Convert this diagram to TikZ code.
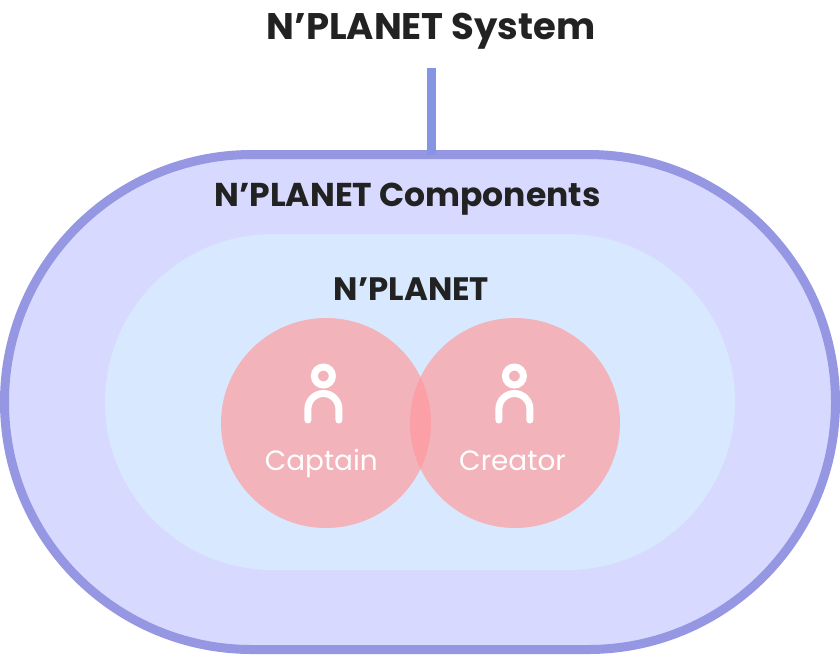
\documentclass[tikz,border=0pt]{standalone}
\usepackage{fontspec}
\setmainfont{Poppins}
\definecolor{txt}{HTML}{222222}
\definecolor{ringc}{HTML}{9597E2}
\definecolor{linec}{HTML}{8595E3}
\definecolor{outerc}{HTML}{D8D9FE}
\definecolor{innerc}{HTML}{D8E9FF}
\definecolor{circc}{HTML}{F2B3BB}
\definecolor{overc}{HTML}{FBA0A6}
\tikzset{
  x=1pt,y=-1pt,
  boxbase/.style={rectangle,inner sep=0pt,outer sep=0pt},
  member/.style={circle,inner sep=0pt,outer sep=0pt,minimum size=210pt,fill=circc},
  heading/.style={anchor=base,inner sep=0pt,text=txt,font=\bfseries\fontsize{#1}{#1}\selectfont},
  memberlabel/.style={anchor=base,inner sep=0pt,text=white,font=\fontsize{27.9}{28}\selectfont},
  icon/.style={draw=white,line width=7pt,line cap=round}
}
\begin{document}
\begin{tikzpicture}
\useasboundingbox (0,0) rectangle (840,654);
\node[boxbase,draw=ringc,line width=9pt,fill=outerc,minimum width=831pt,minimum height=495pt,rounded corners=247.5pt] (outer) at (420,402) {};
\node[boxbase,fill=innerc,minimum width=630pt,minimum height=336pt,rounded corners=168pt] (inner) at (420,402) {};
\node[member] (captain) at (326,423) {};
\node[member] (creator) at (515,423) {};
\begin{scope}
\clip (326,423) circle[radius=105];
\fill[overc] (515,423) circle[radius=105];
\end{scope}
\node[heading=37] (title) at (431,39) {N’PLANET System};
\coordinate (top) at (431,68);
\draw[linec,line width=9pt] (top) -- (top |- outer.north);
\node[heading=33] (comp) at (407.5,206) {N’PLANET Components};
\node[heading=32.4] (plan) at (411.5,300.5) {N’PLANET};
\node[memberlabel] (captainlabel) at (321.3,470) {Captain};
\node[memberlabel] (creatorlabel) at (512.5,470) {Creator};
\foreach \cx in {323.4,514.4}{
  \draw[icon] (\cx,376) circle[radius=9];
  \draw[icon] (\cx-15.5,420) -- (\cx-15.5,409) arc[start angle=180,end angle=0,radius=15.5,y radius=-15.5] -- (\cx+15.5,420);
}
\end{tikzpicture}
\end{document}
